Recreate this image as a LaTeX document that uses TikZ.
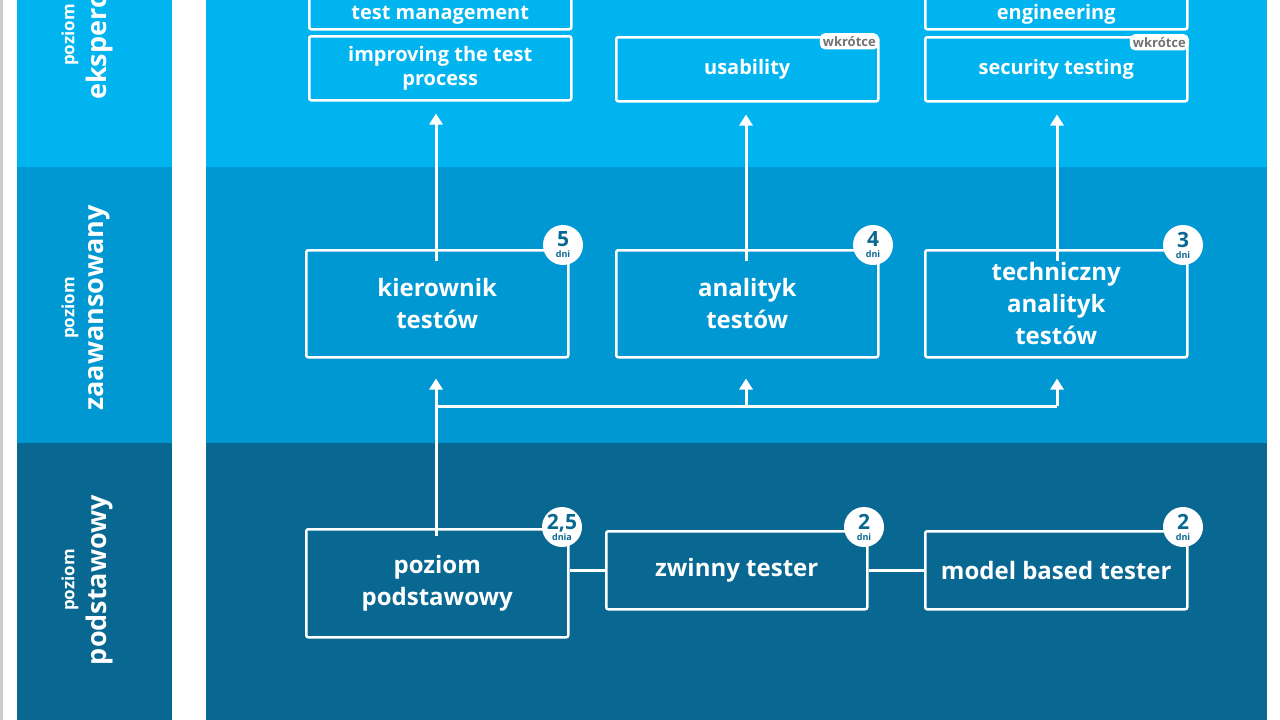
\documentclass[tikz,border=0pt]{standalone}
\usepackage{fontspec}
\setmainfont{Open Sans}
\usetikzlibrary{arrows.meta}
\begin{document}
\begin{tikzpicture}[x=1pt,y=-1pt,
  box/.style={draw=white,line width=2.5pt,rounded corners=2pt,text=white,align=center,font=\bfseries\fontsize{20}{24}\selectfont,anchor=north west},
  bigbox/.style={box,font=\bfseries\fontsize{24}{32}\selectfont},
  days/.style={circle,fill=white,minimum size=40pt,inner sep=0pt,align=center},
  soon/.style={fill=white,rounded corners=5pt,text=gray!90!black,font=\bfseries\fontsize{13}{13}\selectfont,inner sep=3pt,anchor=north east},
  arr/.style={draw=white,line width=3pt,-{Triangle[width=13pt,length=11pt]}},
  ln/.style={draw=white,line width=3pt},
  sm/.style={rotate=90,text=white,font=\bfseries\fontsize{17}{17}\selectfont},
  bg/.style={rotate=90,text=white,font=\bfseries\fontsize{27}{27}\selectfont}]
\definecolor{lb}{RGB}{0,180,240}
\definecolor{mb}{RGB}{0,152,210}
\definecolor{db}{RGB}{8,104,145}
\definecolor{dc}{RGB}{8,104,145}
\useasboundingbox (0,0) rectangle (1280,720);
\fill[white] (0,0) rectangle (1280,720);
\fill[gray!40] (0,0) rectangle (3,720);
\foreach \a/\b in {17/172,206/1267}{
 \fill[lb] (\a,0) rectangle (\b,167);
 \fill[mb] (\a,167) rectangle (\b,443);
 \fill[db] (\a,443) rectangle (\b,720);}
% left labels
\node[sm] (l1a) at (70,35) {poziom};
\node[bg] (l1b) at (99,35) {ekspercki};
\node[sm] (l2a) at (70,308) {poziom};
\node[bg] (l2b) at (99,308) {zaawansowany};
\node[sm] (l3a) at (70,580) {poziom};
\node[bg] (l3b) at (99,580) {podstawowy};
% top boxes
\node[box,minimum width=262pt,minimum height=60pt] (tm) at (308,-32) {\\[22pt]test management};
\node[box,minimum width=262pt,minimum height=64pt] (ip) at (308,35) {improving the test\\process};
\node[box,minimum width=262pt,minimum height=64pt] (us) at (615,36) {usability};
\node[box,minimum width=262pt,minimum height=60pt] (en) at (924,-32) {\\[22pt]engineering};
\node[box,minimum width=262pt,minimum height=64pt] (st) at (924,36) {security testing};
\node[soon] (s1) at (879,33) {wkrótce};
\node[soon] (s2) at (1189,34) {wkrótce};
% middle
\node[bigbox,minimum width=262pt,minimum height=107pt] (kt) at (305,249) {kierownik\\testów};
\node[bigbox,minimum width=262pt,minimum height=107pt] (at) at (615,249) {analityk\\testów};
\node[bigbox,minimum width=262pt,minimum height=107pt] (tt) at (924,249) {techniczny\\analityk\\testów};
% bottom
\node[bigbox,minimum width=262pt,minimum height=108pt] (pp) at (305,528) {poziom\\podstawowy};
\node[bigbox,minimum width=261pt,minimum height=78pt] (zt) at (605,530) {zwinny tester};
\node[bigbox,minimum width=262pt,minimum height=78pt] (mt) at (924,530) {model based tester};
% day badges
\node[days,text=dc] (d1) at (563,245) {{\bfseries\fontsize{21}{14}\selectfont 5}\\[-1pt]{\bfseries\fontsize{9}{9}\selectfont dni}};
\node[days,text=dc] (d2) at (873,245) {{\bfseries\fontsize{21}{14}\selectfont 4}\\[-1pt]{\bfseries\fontsize{9}{9}\selectfont dni}};
\node[days,text=dc] (d3) at (1183,245) {{\bfseries\fontsize{21}{14}\selectfont 3}\\[-1pt]{\bfseries\fontsize{9}{9}\selectfont dni}};
\node[days,text=dc] (d4) at (562,527) {{\bfseries\fontsize{21}{14}\selectfont 2,5}\\[-1pt]{\bfseries\fontsize{9}{9}\selectfont dnia}};
\node[days,text=dc] (d5) at (864,527) {{\bfseries\fontsize{21}{14}\selectfont 2}\\[-1pt]{\bfseries\fontsize{9}{9}\selectfont dni}};
\node[days,text=dc] (d6) at (1183,527) {{\bfseries\fontsize{21}{14}\selectfont 2}\\[-1pt]{\bfseries\fontsize{9}{9}\selectfont dni}};
% connectors
\coordinate (j1) at (436,406);
\coordinate (j2) at (746,406);
\coordinate (j3) at (1057,406);
\draw[arr] ([yshift=-8pt]pp.north -| j1) -- ([yshift=-20pt]kt.south -| j1);
\draw[ln] (j1) -- (j3);
\draw[arr] (j2) -- ([yshift=-20pt]at.south -| j2);
\draw[arr] (j3) -- ([yshift=-20pt]tt.south -| j3);
\draw[arr] ([yshift=-12pt]kt.north -| j1) -- ([yshift=-12pt]ip.south -| j1);
\draw[arr] ([yshift=-12pt]at.north -| j2) -- ([yshift=-12pt]us.south -| j2);
\draw[arr] ([yshift=-12pt]tt.north -| j3) -- ([yshift=-12pt]st.south -| j3);
\draw[ln] (pp.east |- zt.west) -- (zt.west);
\draw[ln] (zt.east) -- (mt.west);
\end{tikzpicture}
\end{document}
